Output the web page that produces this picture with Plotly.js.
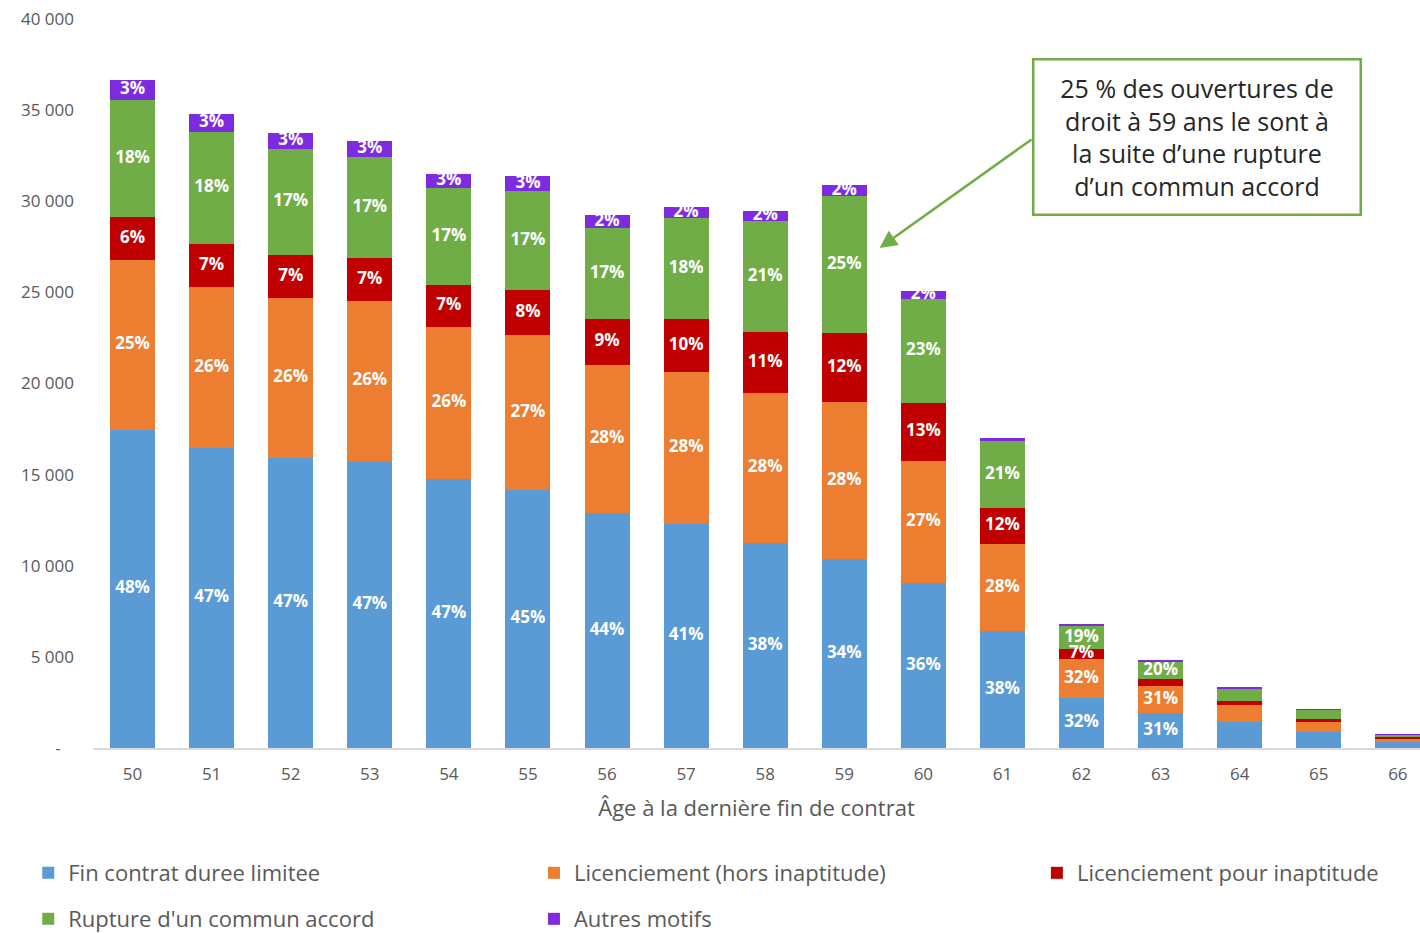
<!DOCTYPE html>
<html>
<head>
<meta charset="utf-8">
<script src="https://cdn.plot.ly/plotly-3.0.1.min.js"></script>
<style>
html,body{margin:0;padding:0;background:#fff;}
#chart{width:1420px;height:933px;}
</style>
</head>
<body>
<div id="chart"></div>
<script>
// Categories: age at last end of contract
const ages = ['50','51','52','53','54','55','56','57','58','59','60','61','62','63','64','65','66'];

// Series values (number of right openings)
const finContrat      = [17450,16470,15920,15750,14760,14160,12900,12290,11250,10370,9060,6420,2760,1900,1440,880,310];
const licenciement    = [9330,8830,8780,8780,8350,8510,8120,8350,8230,8620,6690,4780,2110,1520,900,530,180];
const inaptitude      = [2360,2360,2360,2360,2300,2470,2530,2910,3350,3790,3190,1970,550,350,240,200,100];
const rupture         = [6430,6150,5820,5550,5330,5430,4990,5540,6090,7520,5700,3680,1290,970,670,460,110];
const autres          = [1100,990,880,880,770,820,710,600,550,600,440,160,110,70,80,70,70];

// Percent labels as shown on the chart
const finContratLbl   = ['48%','47%','47%','47%','47%','45%','44%','41%','38%','34%','36%','38%','32%','31%','','',''];
const licenciementLbl = ['25%','26%','26%','26%','26%','27%','28%','28%','28%','28%','27%','28%','32%','31%','','',''];
const inaptitudeLbl   = ['6%','7%','7%','7%','7%','8%','9%','10%','11%','12%','13%','12%','7%','','','',''];
const ruptureLbl      = ['18%','18%','17%','17%','17%','17%','17%','18%','21%','25%','23%','21%','19%','20%','','',''];
const autresLbl       = ['3%','3%','3%','3%','3%','3%','2%','2%','2%','2%','2%','','','','','',''];

// Y axis ticks
const yTicks = [0,5000,10000,15000,20000,25000,30000,35000,40000];
const yTickLabels = ['-\u00a0\u00a0\u00a0','5 000','10 000','15 000','20 000','25 000','30 000','35 000','40 000'];

const seriesNames = ['Fin contrat duree limitee','Licenciement (hors inaptitude)','Licenciement pour inaptitude',"Rupture d'un commun accord",'Autres motifs'];
const seriesColors = ['#5B9BD5','#ED7D31','#C00000','#70AD47','#7E2BE0'];
const seriesVals = [finContrat, licenciement, inaptitude, rupture, autres];
const seriesLbls = [finContratLbl, licenciementLbl, inaptitudeLbl, ruptureLbl, autresLbl];
const seriesLegend = ['legend','legend2','legend3','legend4','legend5'];

const FONT = 'Open Sans, DejaVu Sans, sans-serif';
const GREY = '#595959';

const traces = [];
const base = ages.map(() => 0);
seriesVals.forEach((vals, i) => {
  traces.push({
    type: 'bar', x: ages, y: vals, name: seriesNames[i],
    marker: {color: seriesColors[i], line: {width: 0}},
    legend: seriesLegend[i], hoverinfo: 'skip'
  });
});
// label traces at segment centres
seriesVals.forEach((vals, i) => {
  const xs = [], ys = [], ts = [];
  vals.forEach((v, j) => {
    if (seriesLbls[i][j]) { xs.push(ages[j]); ys.push(base[j] + v / 2); ts.push(seriesLbls[i][j]); }
    base[j] += v;
  });
  traces.push({
    type: 'scatter', mode: 'text', x: xs, y: ys, text: ts, showlegend: false, hoverinfo: 'skip',
    textposition: 'middle center', cliponaxis: false,
    textfont: {family: FONT, size: 17, color: '#ffffff', weight: 'bold'}
  });
});

function legendAt(x, y) {
  return {
    orientation: 'h', x: x, xanchor: 'left', y: y, yanchor: 'middle',
    font: {family: FONT, size: 22, color: GREY}, bgcolor: 'rgba(0,0,0,0)'
  };
}

const layout = {
  width: 1420, height: 933,
  margin: {l: 93, r: 0, t: 19, b: 185, autoexpand: false},
  paper_bgcolor: '#ffffff', plot_bgcolor: '#ffffff',
  barmode: 'stack', bargap: 0.43,
  showlegend: true,
  xaxis: {
    type: 'category', range: [-0.5, 16.28],
    showline: true, linecolor: '#d9d9d9', linewidth: 1.5,
    showgrid: false, zeroline: false, ticks: '', ticklabelstandoff: 10,
    tickfont: {family: FONT, size: 17, color: GREY},
    title: {text: 'Âge à la dernière fin de contrat', standoff: 16, font: {family: FONT, size: 22, color: GREY}}
  },
  yaxis: {
    range: [0, 40000], tickvals: yTicks, ticktext: yTickLabels,
    showgrid: false, zeroline: false, showline: false, ticks: '', ticklabelstandoff: 18,
    tickfont: {family: FONT, size: 17, color: GREY}
  },
  legend:  legendAt(-0.0488, -0.1715),
  legend2: legendAt(0.3323, -0.1715),
  legend3: legendAt(0.7113, -0.1715),
  legend4: legendAt(-0.0488, -0.2346),
  legend5: legendAt(0.3323, -0.2346),
  annotations: [
    {
      xref: 'paper', yref: 'paper', x: 0.8323, y: 0.838, xanchor: 'center', yanchor: 'middle',
      text: '25 % des ouvertures de<br>droit à 59 ans le sont à<br>la suite d’une rupture<br>d’un commun accord',
      showarrow: false, align: 'center', valign: 'middle',
      width: 323, height: 151, borderpad: 1,
      bordercolor: '#70AD47', borderwidth: 2.5, bgcolor: '#ffffff',
      font: {family: FONT, size: 25, color: '#262626'}
    },
    {
      xref: 'x', yref: 'y', x: 9.446, y: 27435, text: ' ',
      showarrow: true, arrowhead: 2, arrowsize: 1.4, arrowwidth: 2.5, arrowcolor: '#70AD47',
      ax: 154, ay: -110, font: {size: 2}
    }
  ]
};

Plotly.newPlot('chart', traces, layout, {displayModeBar: false, staticPlot: true});
</script>
</body>
</html>
